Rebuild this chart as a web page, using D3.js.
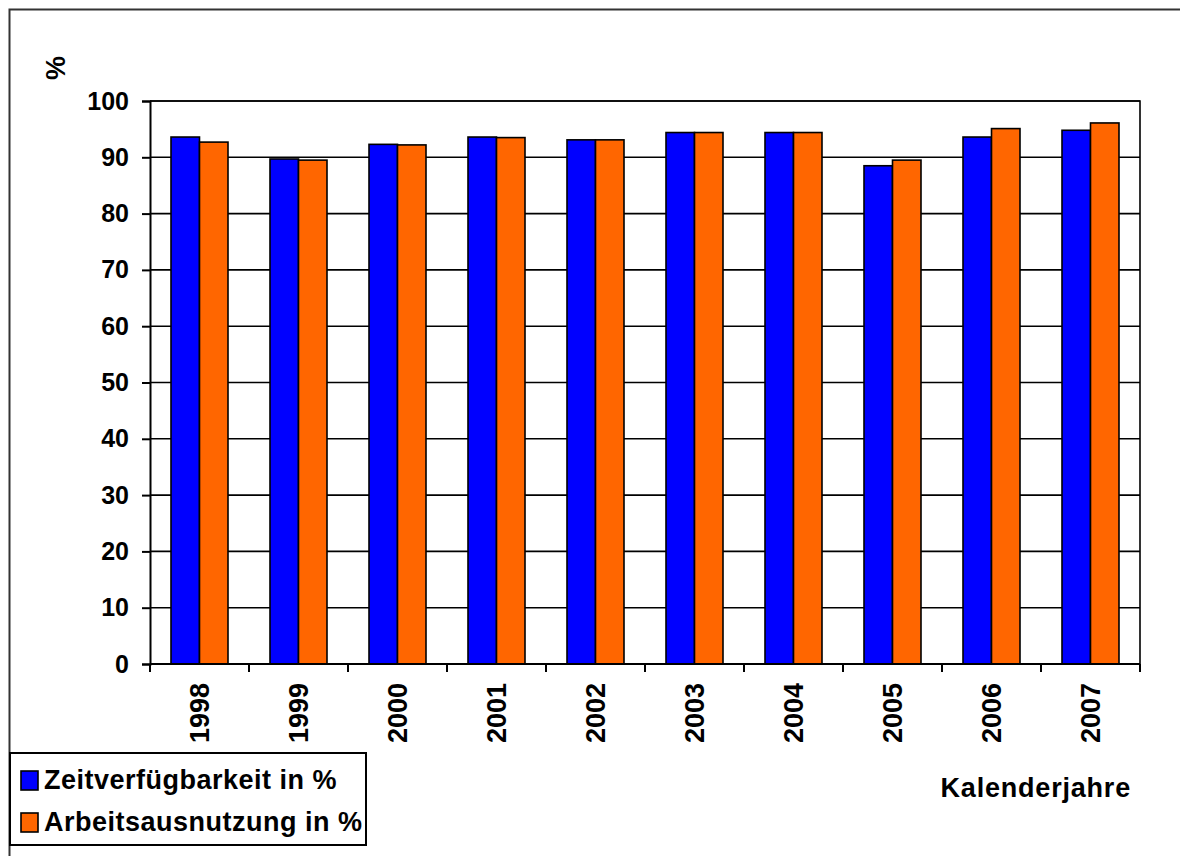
<!DOCTYPE html>
<html>
<head>
<meta charset="utf-8">
<script src="https://cdn.jsdelivr.net/npm/d3@7"></script>
<style>
  html, body { margin: 0; padding: 0; background: #fff; }
  svg text { font-family: "Liberation Sans", Arial, sans-serif; font-weight: bold; fill: #000; }
</style>
</head>
<body>
<svg id="chart" width="1180" height="856"></svg>
<script>
// Kalenderjahre and the two availability series (%)
const years = ["1998", "1999", "2000", "2001", "2002", "2003", "2004", "2005", "2006", "2007"];
const zeitverfuegbarkeit = [93.6, 89.7, 92.3, 93.6, 93.1, 94.4, 94.4, 88.5, 93.6, 94.8];
const arbeitsausnutzung = [92.7, 89.5, 92.2, 93.5, 93.1, 94.4, 94.4, 89.5, 95.1, 96.1];
const yTicks = [0, 10, 20, 30, 40, 50, 60, 70, 80, 90, 100];
const seriesNames = ["Zeitverfügbarkeit in %", "Arbeitsausnutzung in %"];
const seriesColors = ["#0000ff", "#ff6600"];

const svg = d3.select("#chart");
const plot = { left: 150, right: 1140, top: 101, bottom: 664 };

// outer chart frame (top and left edges)
svg.append("path")
  .attr("d", `M9.5,856 V9.5 H1180`)
  .attr("fill", "none").attr("stroke", "#333").attr("stroke-width", 2);

const x = d3.scaleBand().domain(years).range([plot.left, plot.right]).paddingInner(0).paddingOuter(0);
const y = d3.scaleLinear().domain([0, 100]).range([plot.bottom, plot.top]);

// horizontal gridlines
svg.append("g").selectAll("line").data(yTicks.slice(1)).join("line")
  .attr("x1", plot.left).attr("x2", plot.right)
  .attr("y1", d => y(d)).attr("y2", d => y(d))
  .attr("stroke", "#000").attr("stroke-width", 1.6);

// plot area border (top and right)
svg.append("path")
  .attr("d", `M${plot.left},${plot.top} H${plot.right} V${plot.bottom}`)
  .attr("fill", "none").attr("stroke", "#000").attr("stroke-width", 1.6);

// bars
const groupW = 57;
const sub = d3.scaleBand().domain([0, 1]).range([0, groupW]);
const series = [zeitverfuegbarkeit, arbeitsausnutzung];
series.forEach((vals, si) => {
  svg.append("g").selectAll("rect").data(years).join("rect")
    .attr("x", (d) => x(d) + (x.bandwidth() - groupW) / 2 + sub(si))
    .attr("y", (d, i) => y(vals[i]))
    .attr("width", sub.bandwidth())
    .attr("height", (d, i) => y(0) - y(vals[i]))
    .attr("fill", seriesColors[si])
    .attr("stroke", "#000").attr("stroke-width", 1.6);
});

// y axis
const yAxis = svg.append("g").attr("transform", `translate(${plot.left},0)`)
  .call(d3.axisLeft(y).tickValues(yTicks).tickSize(8).tickPadding(13).tickFormat(d3.format("d")));
yAxis.select(".domain").attr("stroke", "#000").attr("stroke-width", 2);
yAxis.selectAll(".tick line").attr("stroke", "#000").attr("stroke-width", 2);
yAxis.selectAll(".tick text").attr("font-size", 25).attr("fill", "#000")
  .attr("font-family", "Liberation Sans, Arial, sans-serif").attr("font-weight", "bold");

// x axis: ticks at category boundaries
const xAxisG = svg.append("g").attr("transform", `translate(0,${plot.bottom})`);
xAxisG.append("line").attr("x1", plot.left).attr("x2", plot.right)
  .attr("stroke", "#000").attr("stroke-width", 2);
const bounds = years.map(d => x(d)).concat([plot.right]);
xAxisG.selectAll("line.tk").data(bounds).join("line").attr("class", "tk")
  .attr("x1", d => d).attr("x2", d => d).attr("y1", 0).attr("y2", 8)
  .attr("stroke", "#000").attr("stroke-width", 2);
xAxisG.selectAll("text").data(years).join("text")
  .attr("transform", d => `translate(${x(d) + x.bandwidth() / 2 + 9},19) rotate(-90)`)
  .attr("text-anchor", "end")
  .attr("font-size", 27)
  .text(d => d);

// axis titles
svg.append("text")
  .attr("transform", "translate(65,68) rotate(-90)")
  .attr("text-anchor", "middle").attr("font-size", 27).text("%");
svg.append("text")
  .attr("x", 1131).attr("y", 797).attr("text-anchor", "end")
  .attr("font-size", 27).attr("letter-spacing", 0.8).text("Kalenderjahre");

// legend
const lg = svg.append("g");
lg.append("rect").attr("x", 10).attr("y", 753).attr("width", 356).attr("height", 92)
  .attr("fill", "#fff").attr("stroke", "#000").attr("stroke-width", 2);
seriesNames.forEach((name, i) => {
  const yy = 771 + i * 42;
  lg.append("rect").attr("x", 21).attr("y", yy).attr("width", 17).attr("height", 19)
    .attr("fill", seriesColors[i]).attr("stroke", "#000").attr("stroke-width", 1.6);
  lg.append("text").attr("x", 44).attr("y", yy + 18).attr("font-size", 27)
    .attr("letter-spacing", 0.5).text(name);
});
</script>
</body>
</html>
